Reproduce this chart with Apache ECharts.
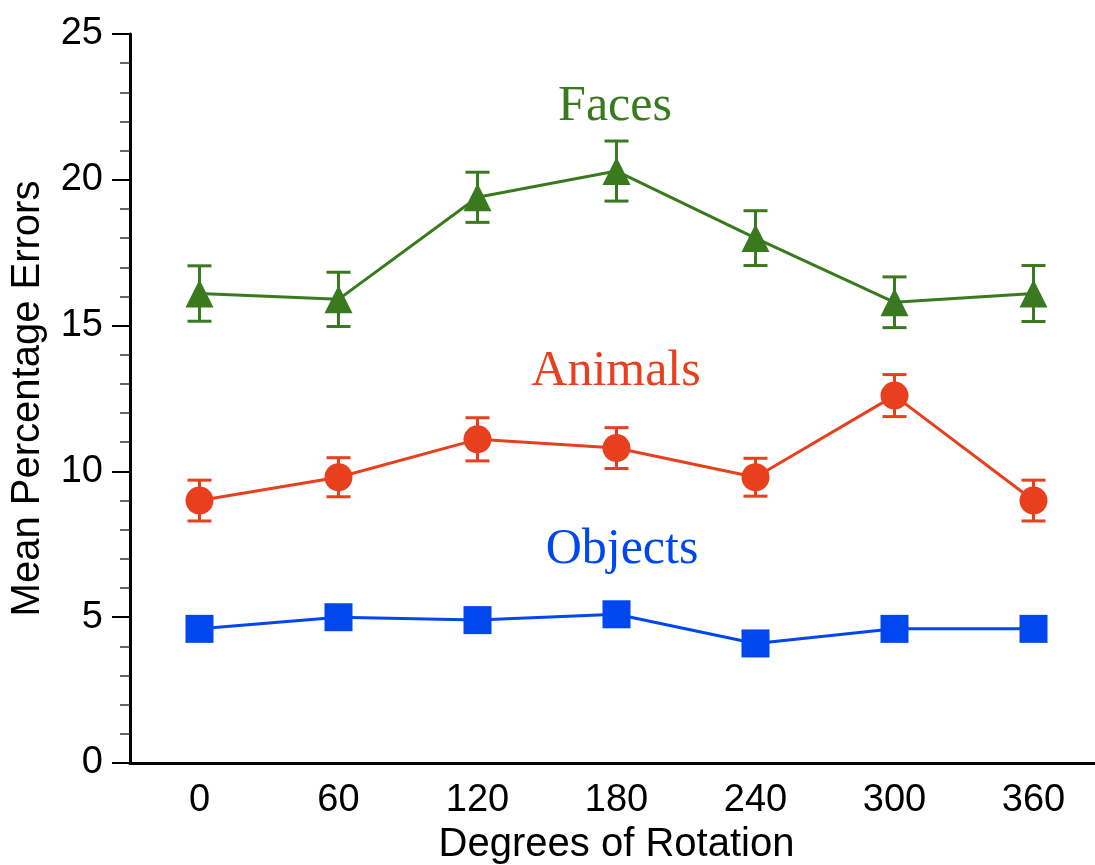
<!DOCTYPE html>
<html lang="en">
<head>
    <meta charset="UTF-8">
    <title>Mean Percentage Errors</title>
    <style>
        html, body { margin: 0; padding: 0; background: #fff; }
        #main { width: 1095px; height: 865px; }
    </style>
</head>
<body>
    <div id="main"></div>
    <script src="https://cdn.jsdelivr.net/npm/echarts@6/dist/echarts.min.js"></script>
    <script>
        // x categories: degrees of rotation
        var degrees = ['0', '60', '120', '180', '240', '300', '360'];

        // means
        var faces = [16.1, 15.9, 19.4, 20.3, 18.0, 15.8, 16.1];
        var animals = [9.0, 9.8, 11.1, 10.8, 9.8, 12.6, 9.0];
        var objects = [4.6, 5.0, 4.9, 5.1, 4.1, 4.6, 4.6];

        // error bar half-widths
        var facesErr = [0.95, 0.93, 0.86, 1.03, 0.94, 0.87, 0.96];
        var animalsErr = [0.70, 0.67, 0.74, 0.70, 0.65, 0.72, 0.70];

        var green = '#3a7a1e', red = '#e8401f', blue = '#0047f0';

        var myChart = echarts.init(document.getElementById('main'));

        // build [index, low, high] for the error bars
        function errData(mean, err) {
            var out = [];
            for (var i = 0; i < mean.length; i++) {
                out.push([i, mean[i] - err[i], mean[i] + err[i]]);
            }
            return out;
        }

        function errSeries(mean, err, color) {
            return {
                type: 'custom',
                data: errData(mean, err),
                z: 1,
                renderItem: function (params, api) {
                    var lo = api.coord([api.value(0), api.value(1)]);
                    var hi = api.coord([api.value(0), api.value(2)]);
                    var w = 12;
                    var st = { stroke: color, lineWidth: 3 };
                    return {
                        type: 'group',
                        children: [
                            { type: 'line', shape: { x1: hi[0], y1: hi[1], x2: lo[0], y2: lo[1] }, style: st },
                            { type: 'line', shape: { x1: hi[0] - w, y1: hi[1], x2: hi[0] + w, y2: hi[1] }, style: st },
                            { type: 'line', shape: { x1: lo[0] - w, y1: lo[1], x2: lo[0] + w, y2: lo[1] }, style: st }
                        ]
                    };
                }
            };
        }

        function lineSeries(data, color, symbol, size) {
            return {
                type: 'line',
                data: data,
                symbol: symbol,
                symbolSize: size,
                z: 2,
                lineStyle: { color: color, width: 3 },
                itemStyle: { color: color, opacity: 1 },
                animation: false
            };
        }

        var tickFont = { fontFamily: 'Liberation Sans', fontSize: 38, color: '#000' };
        var titleFont = { fontFamily: 'Liberation Sans', fontSize: 40, color: '#000' };

        var option = {
            animation: false,
            grid: { left: 130, top: 34, width: 973, bottom: 102, outerBoundsMode: 'none', containLabel: false },
            xAxis: {
                type: 'category',
                data: degrees,
                boundaryGap: true,
                name: 'Degrees of Rotation',
                nameLocation: 'middle',
                nameGap: 61,
                nameTextStyle: titleFont,
                axisLine: { lineStyle: { color: '#000', width: 3 } },
                axisTick: { show: false },
                axisLabel: Object.assign({ margin: 19 }, tickFont)
            },
            yAxis: {
                type: 'value',
                min: 0,
                max: 25,
                interval: 5,
                name: 'Mean Percentage Errors',
                nameLocation: 'middle',
                nameGap: 82,
                nameTextStyle: titleFont,
                axisLine: { show: true, lineStyle: { color: '#000', width: 3 } },
                axisTick: { show: true, length: 18, lineStyle: { color: '#000', width: 2 } },
                minorTick: { show: true, splitNumber: 5, length: 10, lineStyle: { color: '#333', width: 1.5 } },
                splitLine: { show: false },
                axisLabel: Object.assign({ margin: 27 }, tickFont)
            },
            graphic: [
                { type: 'text', x: 615, y: 107, style: { text: 'Faces', font: '50px "Liberation Serif"', fill: green, textAlign: 'center', textVerticalAlign: 'middle' } },
                { type: 'text', x: 616, y: 372, style: { text: 'Animals', font: '50px "Liberation Serif"', fill: red, textAlign: 'center', textVerticalAlign: 'middle' } },
                { type: 'text', x: 622, y: 550, style: { text: 'Objects', font: '50px "Liberation Serif"', fill: blue, textAlign: 'center', textVerticalAlign: 'middle' } }
            ],
            series: [
                errSeries(faces, facesErr, green),
                errSeries(animals, animalsErr, red),
                lineSeries(faces, green, 'triangle', 28),
                lineSeries(animals, red, 'circle', 28),
                lineSeries(objects, blue, 'rect', 28)
            ]
        };
        myChart.setOption(option);
    </script>
</body>
</html>
